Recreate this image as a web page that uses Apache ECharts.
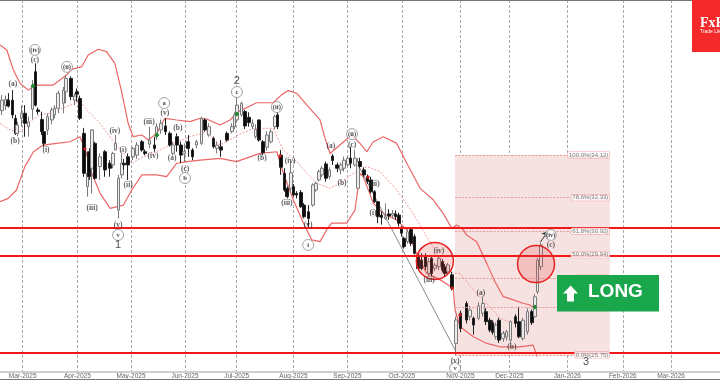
<!DOCTYPE html>
<html>
<head>
<meta charset="utf-8">
<style>
  html, body { margin: 0; padding: 0; background: #fff; }
  #chart { width: 720px; height: 380px; }
</style>
</head>
<body>
<div id="chart"></div>
<script src="https://cdn.jsdelivr.net/npm/echarts@6/dist/echarts.min.js"></script>
<script>
// where each bar sits on the x axis, the picture's bars are not evenly spaced
const candleBars = [
  0.5,1.6,2.3,3.5,4.3,4.8,6,6.9,7.9,9,9.9,10.6,11.6,12.2,13.2,14.4,15.1,16.2,17.6,18.3,19.7,20.8,21.3,22.2,
  23.4,24.3,24.8,25.5,26.4,27.8,29.2,30.6,31.3,32.1,32.9,33.8,34.4,35.6,37,38.1,39.4,40.3,41.5,42.9,43.5,44.7,
  46,47.2,48,49.1,50.3,51.2,52.3,53.5,54.6,56,56.9,58.1,59.3,60.2,61.4,63,64.4,65.1,65.9,
  67.1,68.1,69.2,70.1,71,71.9,73,74.1,75.2,76.4,77.1,78,79,79.8,80.8,81.5,82.4,83.6,84.4,85.7,86.9,87.8,88.6,
  89.5,90.6,91.5,92.4,93.7,94.7,95.6,96.6,97.4,98.6,99.4,100,101.1,102.1,103.1,104,105,106,107.1,108,109.1,
  109.9,110.8,111.5,112.2,113.2,114.2,115.1,116.2,117.1,118.2,119.2,119.9,120.8,121.9,122.9,123.6,124.5,125.6,
  126.6,127.9,129.6,130.5,131.5,132.9,134.1,135,136.1,136.8,137.7,138.6,139.8,140.7,141.8,143.2,144.1,145.2,
  146.5,147.7,148.6,149.3,150.2
];
// open, close, low, high per bar
const candles = [
  [35.97,36.41,35.79,36.62],[36.20,36.44,36.00,36.60],[36.41,36.16,36.10,36.70],[36.41,35.79,35.65,36.83],
  [35.65,35.02,34.95,35.80],[35.02,35.37,34.90,35.50],[35.65,35.86,35.30,36.20],[35.86,35.44,34.88,36.20],
  [35.30,35.50,34.88,35.72],[36.03,37.04,35.60,37.25],[37.60,36.20,36.14,37.95],[36.00,35.93,35.80,36.10],
  [35.60,35.09,34.95,35.93],[35.09,34.60,34.46,35.23],[35.16,35.72,34.95,35.86],[35.58,36.00,35.40,36.10],
  [35.79,36.07,35.65,36.20],[36.07,36.70,35.86,36.80],[36.28,36.83,35.86,36.97],[36.76,37.32,36.28,37.46],
  [37.32,36.56,36.41,37.40],[36.41,36.58,36.20,36.70],[36.76,36.66,36.35,36.90],[36.48,35.65,35.58,36.60],
  [35.02,33.35,33.20,35.25],[32.79,33.35,32.37,33.90],[34.25,33.21,33.07,34.40],[33.56,35.16,32.51,35.20],
  [34.60,33.14,33.07,34.67],[33.63,34.04,33.07,34.18],[34.25,33.49,33.20,34.32],[33.77,33.56,33.21,33.90],
  [33.70,34.18,33.56,34.25],[34.32,34.60,34.32,34.95],[31.81,33.14,31.46,33.28],[33.28,33.77,33.14,34.18],
  [33.77,33.70,33.50,33.95],[34.04,33.70,33.07,34.18],[34.04,34.39,33.90,34.46],[34.11,34.53,33.95,34.65],
  [34.67,34.32,34.25,34.74],[34.25,34.18,34.10,34.35],[34.57,34.74,34.40,35.30],[34.53,34.39,34.25,34.88],
  [34.88,35.30,34.74,35.44],[35.16,35.44,35.00,35.60],[35.33,35.09,34.95,35.65],[35.02,34.53,34.46,35.10],
  [34.18,34.53,34.10,34.67],[34.88,34.53,34.25,35.02],[34.53,34.11,33.77,34.67],[34.16,34.25,33.83,34.60],
  [34.67,34.39,34.04,34.95],[34.32,34.04,33.90,34.40],[34.53,34.67,34.40,34.75],[34.60,35.65,34.53,35.72],
  [35.58,35.16,35.09,35.65],[34.95,35.30,34.88,35.44],[34.81,34.46,34.39,34.88],[34.39,34.53,34.18,34.67],
  [34.46,34.32,34.04,34.74],[35.02,34.74,34.67,35.10],[35.09,35.30,35.02,35.44],[35.30,35.79,35.20,35.90],
  [35.58,36.20,35.50,36.62],[35.79,36.28,35.72,36.35],[35.93,35.33,35.20,36.00],[35.69,35.47,35.30,35.90],
  [35.30,35.44,35.20,35.60],[34.88,35.19,34.80,35.40],[35.58,34.74,34.67,35.60],[34.67,34.21,34.11,34.74],
  [34.44,34.95,34.30,35.10],[34.67,35.09,34.60,35.20],[35.30,35.72,35.20,35.80],[35.79,35.30,35.20,35.90],
  [34.11,33.60,33.28,34.32],[33.35,32.65,32.58,33.56],[32.72,32.37,32.30,32.80],[32.72,33.37,32.51,33.84],
  [32.79,32.44,32.37,32.90],[32.51,32.44,32.30,32.60],[32.55,31.95,31.90,32.65],[32.02,31.53,31.46,32.10],
  [31.74,31.46,31.05,32.02],[32.02,32.86,31.95,32.93],[32.65,32.93,32.58,33.00],[33.07,33.42,33.00,33.50],
  [33.28,33.56,33.20,33.65],[33.74,33.14,33.00,33.84],[33.21,33.49,33.10,33.60],[34.07,33.88,33.70,34.15],
  [33.70,33.56,33.40,33.80],[33.49,33.70,33.30,33.80],[33.56,33.90,33.42,34.05],[33.70,33.98,33.63,34.10],
  [33.98,33.77,33.56,34.46],[33.70,33.98,33.63,34.32],[32.72,33.84,32.72,33.98],[33.84,33.63,33.56,34.00],
  [33.49,33.28,33.20,33.60],[33.21,33.00,32.90,33.30],[33.07,32.58,32.50,33.20],[32.58,32.16,32.10,32.65],
  [32.16,31.53,31.26,32.16],[31.60,31.50,31.20,31.75],[31.46,31.53,31.40,32.09],[31.65,31.56,31.40,31.85],
  [31.60,31.67,31.46,31.81],[31.65,31.53,31.40,31.80],[31.60,31.26,31.12,31.70],[31.05,30.84,30.70,31.15],
  [30.63,30.28,30.20,30.70],[30.49,30.90,30.40,31.00],[31.00,30.42,30.30,31.05],[30.70,30.00,29.95,30.80],
  [29.93,29.37,29.30,30.00],[29.72,29.37,29.30,30.00],[29.86,29.44,29.30,30.00],[29.16,29.65,29.05,29.80],
  [29.79,29.16,29.05,29.90],[29.37,29.51,29.25,29.60],[29.44,29.79,29.30,29.90],[29.65,29.30,29.20,29.75],
  [29.44,29.16,29.05,29.55],[29.23,29.51,29.10,29.60],[29.10,28.54,28.45,29.23],[26.23,27.21,25.75,27.35],
  [27.49,26.86,26.70,27.60],[27.90,27.21,27.07,28.00],[27.35,27.63,27.20,27.80],[27.28,27.00,26.60,27.35],
  [27.28,27.80,27.20,27.95],[27.49,27.90,27.35,28.20],[27.56,27.14,27.00,27.70],[27.20,26.79,26.70,27.30],
  [27.10,26.70,26.60,27.20],[26.51,27.00,26.40,27.10],[27.20,26.37,26.25,27.30],[26.44,26.65,26.30,26.75],
  [26.50,26.72,26.35,26.80],[26.37,27.14,26.23,27.20],[27.35,27.07,26.90,27.45],[27.14,26.51,26.45,27.77],
  [26.44,27.20,26.35,27.30],[26.72,27.56,26.60,27.70],[27.56,27.10,27.00,27.65],[27.35,28.18,27.30,28.30],
  [28.39,29.72,28.30,29.80],[29.44,30.35,29.30,30.45]
];

const upperBars = [0,1.9,3.7,5.6,7.9,9.7,12,14.8,18.5,19.9,22.7,24.5,27.3,29.6,31.9,33.8,35.6,37,39.4,41.2,43.5,45.8,49.1,52.8,55.6,57.4,61.1,63.9,66.2,71.3,75.9,78.2,80.1,82.4,85.2,88.9,90.3,91.7,94.4,97.7,100,101.9,103.7,106.5,110.2,113,116.7,120.4,123.1,125.5,126.9,128.7,129.6,132.4,135.2,137.5,139.8,142.6,145.3,147.2,148.6];
const upperBand = [38.72,38.51,37.67,37.11,36.83,37.04,37.04,37.04,37.46,37.70,37.81,38.30,38.54,38.44,37.95,36.76,35.44,34.88,34.95,34.74,35.02,35.65,35.58,35.51,35.65,35.62,35.37,35.58,35.93,36.30,36.30,36.63,36.81,36.70,36.21,35.58,34.81,34.18,34.53,34.95,34.60,34.25,34.67,34.88,34.60,33.77,32.72,32.23,31.67,31.05,31.19,30.98,30.77,30.49,29.58,28.81,28.19,28.05,27.91,27.84,27.70];
const midBars = [0,2.8,5.6,8.3,11.1,13.9,18.5,22.2,25,27.8,31.9,36.6,39.8,43.5,48.1,52.8,57.4,61.1,66.2,70.4,75.9,78.7,82.4,85.2,88,91.7,94.4,98.2,101.9,105.6,110.2,114.8,118.5,122.2,125.9,127.8,131.5,135.2,138.9,142.6,146.3,148.6];
const midBand = [35.44,35.16,35.09,35.51,35.79,35.86,36.14,36.35,35.86,35.44,34.60,33.77,34.04,34.25,34.60,34.88,35.09,34.53,34.95,35.23,35.23,34.32,33.84,33.35,32.93,32.72,32.93,33.35,33.63,33.42,32.65,31.67,30.70,29.86,29.17,29.16,28.46,27.91,27.28,27.07,27.00,27.14];
const lowerBars = [0,2.3,4.6,6.9,9.3,12,15.7,19.4,22.2,23.6,25.5,27.8,30.6,34.3,36.6,39.4,43.5,46.3,49.1,51.9,55.6,61.1,65.7,72.2,76.9,78.7,81.5,84.3,86.6,88.9,90.7,92.1,96.3,98.6,100,100.9,103.7,106.5,110.2,113,115.7,118.5,122.2,125.9,126.4,127.8,131.5,135.2,138.9,144.4,148.1,149.2];
const lowerBand = [32.16,32.30,32.65,33.63,34.25,34.53,34.60,34.67,34.88,34.39,33.35,32.51,31.88,32.02,32.65,33.28,33.28,33.21,33.77,33.84,33.90,33.97,33.84,34.18,34.25,33.35,32.23,31.26,30.56,30.49,30.98,31.26,31.26,31.81,33.35,33.21,32.09,31.67,31.40,30.98,30.00,29.17,28.90,28.54,27.63,26.93,26.51,26.23,26.09,26.09,26.16,25.67];

const levels = [31.06, 29.89, 25.85];
const fibPrices = [34.12, 32.33, 30.92, 29.94, 28.95, 27.73, 25.75];
const fibTags = ["100.0%(34.12)", "78.6%(32.33)", "61.8%(30.92)", "50.0%(29.94)", "38.2%(28.95)", "23.6%(27.73)", "0.0%(25.75)"];
const fibStartBar = 126.4;
const fibEndBar = 169.4;

const trendFrom = [99.2, 33.78];
const trendTo = [126.4, 25.96];
const arrowFrom = [150.1, 30.47];
const arrowTo = [152.2, 30.93];

const circleSpots = [[120.8, 29.68], [148.9, 29.55]];
const redMarks = [[23.6, 34.37], [77.8, 34.07], [102.2, 33.19], [125.6, 28.55], [127.8, 27.42]];
const greenMarks = [[9.2, 37.0], [43.6, 34.95], [65.8, 35.83], [148.6, 27.75]];

// [bar, price, text]
const waveLabels = [
  [9.7,38.09,"(c)"],[3.6,37.09,"(a)"],[4.2,34.7,"(b)"],[12.8,34.32,"(i)"],[25.6,31.9,"(iii)"],
  [31.9,35.12,"(iv)"],[32.8,31.19,"(v)"],[34.2,34.32,"(i)"],[35.6,32.86,"(ii)"],[41.4,35.5,"(iii)"],
  [42.5,34.07,"(iv)"],[45.8,35.87,"(v)"],[47.8,33.99,"(a)"],[49.4,35.24,"(b)"],[51.4,33.53,"(c)"],
  [72.8,33.99,"(b)"],[80.6,33.86,"(iv)"],[79.7,32.11,"(iii)"],[85.6,31.19,"(v)"],[91.9,34.49,"(a)"],
  [95,32.94,"(b)"],[97.8,34.53,"(c)"],[104.2,32.9,"(ii)"],[103.6,31.69,"(i)"],[121.9,30.1,"(iv)"],
  [119.2,28.88,"(iii)"],[133.6,28.34,"(a)"],[142.2,26.08,"(b)"],[126.4,25.5,"(v)"],[153,30.35,"(c)"]
];
const ringLabels = [
  [9.7,38.51,"(iv)"],[18.6,37.8,"(ii)"],[32.8,30.77,"v"],[45.6,36.29,"a"],[51.4,33.15,"b"],
  [65.8,36.75,"c"],[76.9,36.12,"(ii)"],[85.6,30.35,"i"],[97.8,34.99,"(ii)"],[126.4,25.2,"v"],[153,30.77,"(iv)"]
];
const bigLabels = [[32.8,30.35,"1"],[65.8,37.21,"2"],[162.8,25.46,"3"]];

const monthTicks = [6.3, 21.5, 36.4, 51.4, 65.75, 81.5, 96.5, 111.6, 127.9, 141.5, 157.6, 173, 186.4];
const monthNames = ["Mar-2025","Apr-2025","May-2025","Jun-2025","Jul-2025","Aug-2025","Sep-2025","Oct-2025","Nov-2025","Dec-2025","Jan-2026","Feb-2026","Mar-2026"];

function zip(xs, ys) {
  return xs.map(function (x, i) { return [x, ys[i]]; });
}

function bandSeries(xs, ys, dashed) {
  return {
    type: "line",
    data: zip(xs, ys),
    showSymbol: false,
    silent: true,
    z: 3,
    lineStyle: {
      color: dashed ? "#f29a9a" : "#ec6666",
      width: dashed ? 1 : 1.2,
      type: dashed ? [2, 1.5] : "solid"
    }
  };
}

// symbol "none" would drop the label too, so keep an invisible dot
function textSeries(rows, fontSize, color, bold, family) {
  return {
    type: "scatter",
    data: rows,
    symbolSize: 1,
    itemStyle: { color: "transparent" },
    silent: true,
    z: 8,
    label: {
      show: true,
      position: "inside",
      formatter: function (p) { return p.data[2]; },
      fontFamily: family,
      fontSize: fontSize,
      fontWeight: bold ? "bold" : "normal",
      color: color
    }
  };
}

const serif = "'Liberation Serif', serif";

const option = {
  animation: false,
  backgroundColor: "#fff",
  grid: { left: 0, right: 0, top: 0, bottom: 8 },
  xAxis: {
    type: "value",
    min: 0,
    max: 200,
    axisLine: { show: true, lineStyle: { color: "#cfcfcf", width: 2 } },
    axisTick: { show: false, customValues: monthTicks },
    splitLine: { show: true, lineStyle: { color: "#a8a8a8", type: [3, 2], width: 1 } },
    axisLabel: {
      customValues: monthTicks,
      margin: 1,
      fontSize: 6.5,
      color: "#666",
      fontFamily: "'Liberation Sans', sans-serif",
      hideOverlap: false,
      formatter: function (v) {
        return monthNames[monthTicks.indexOf(v)] || "";
      }
    }
  },
  yAxis: {
    type: "value",
    min: 25.035,
    max: 40.6,
    show: false
  },
  series: [
    {
      // fib box and its levels, with the candles drawn above it
      type: "line",
      data: [],
      z: 1,
      silent: true,
      markArea: {
        silent: true,
        itemStyle: { color: "#f7e2e2", opacity: 1 },
        data: [[{ coord: [fibStartBar, fibPrices[0]] }, { coord: [fibEndBar, fibPrices[6]] }]]
      },
      markLine: {
        silent: true,
        symbol: "none",
        label: { show: false },
        lineStyle: { color: "#e89a9a", type: [2, 1.5], width: 1 },
        data: fibPrices.map(function (p) {
          return [{ coord: [fibStartBar, p] }, { coord: [fibEndBar, p] }];
        })
      }
    },
    {
      type: "candlestick",
      barWidth: 3.2,
      z: 4,
      silent: true,
      data: candles.map(function (c, i) {
        return [candleBars[i], c[0], c[1], c[2], c[3]];
      }),
      itemStyle: {
        color: "#ececec",
        color0: "#0c0c0c",
        borderColor: "#7a7a7a",
        borderColor0: "#222",
        borderWidth: 1
      }
    },
    bandSeries(upperBars, upperBand, false),
    bandSeries(midBars, midBand, true),
    bandSeries(lowerBars, lowerBand, false),
    {
      type: "line",
      data: [trendFrom, trendTo],
      showSymbol: false,
      silent: true,
      z: 3,
      lineStyle: { color: "#8a8a8a", width: 1 }
    },
    {
      type: "line",
      data: [],
      silent: true,
      z: 6,
      markLine: {
        silent: true,
        symbol: ["none", "arrow"],
        symbolSize: 6,
        label: { show: false },
        lineStyle: { color: "#333", type: "solid", width: 1 },
        data: [[{ coord: arrowFrom }, { coord: arrowTo }]]
      }
    },
    {
      type: "line",
      data: [],
      silent: true,
      z: 5,
      markLine: {
        silent: true,
        symbol: "none",
        label: { show: false },
        lineStyle: { color: "#f01818", type: "solid", width: 2 },
        data: levels.map(function (p) { return { yAxis: p }; })
      }
    },
    {
      type: "scatter",
      data: circleSpots,
      symbolSize: 37,
      silent: true,
      z: 6,
      itemStyle: { color: "rgba(228,60,60,0.2)", borderColor: "#e82020", borderWidth: 1.5, opacity: 1 }
    },
    {
      type: "scatter",
      data: redMarks,
      symbol: "diamond",
      symbolSize: 4,
      silent: true,
      z: 7,
      itemStyle: { color: "#c81e1e", opacity: 1 }
    },
    {
      type: "scatter",
      data: greenMarks,
      symbol: "diamond",
      symbolSize: 5,
      silent: true,
      z: 7,
      itemStyle: { color: "#1f8a2e", opacity: 1 }
    },
    {
      // rings with wave text inside
      type: "scatter",
      data: ringLabels,
      symbolSize: 11,
      silent: true,
      z: 8,
      itemStyle: { color: "rgba(255,255,255,0.8)", borderColor: "#8c8c8c", borderWidth: 0.8, opacity: 1 },
      label: {
        show: true,
        position: "inside",
        formatter: function (p) { return p.data[2]; },
        fontFamily: serif,
        fontSize: 6.5,
        fontWeight: "bold",
        color: "#444"
      }
    },
    textSeries(waveLabels, 7.5, "#333", true, serif),
    textSeries(bigLabels, 11, "#222", false, "'Liberation Sans', sans-serif"),
    {
      type: "scatter",
      data: fibPrices.map(function (p, i) { return [fibEndBar, p, fibTags[i]]; }),
      symbolSize: 1,
      itemStyle: { color: "transparent" },
      silent: true,
      z: 7,
      label: {
        show: true,
        position: "left",
        distance: 0,
        formatter: function (p) { return p.data[2]; },
        fontFamily: "'Liberation Sans', sans-serif",
        fontSize: 6,
        color: "#555",
        backgroundColor: "#fff",
        borderColor: "#eda0a0",
        borderWidth: 0.6,
        borderRadius: 1,
        padding: [0, 1]
      }
    }
  ],
  graphic: [
    { type: "rect", z: 20, shape: { x: 0, y: 0, width: 720, height: 1 }, style: { fill: "#777" } },
    { type: "rect", z: 20, shape: { x: 0, y: 379, width: 720, height: 1 }, style: { fill: "#777" } },
    { type: "rect", z: 20, shape: { x: 692, y: 0, width: 28, height: 52 }, style: { fill: "#f42a2a" } },
    { type: "text", z: 21, x: 700, y: 16, style: { text: "FxPro", fill: "#fff", font: "bold 14px 'Liberation Serif', serif" } },
    { type: "text", z: 21, x: 700, y: 29, style: { text: "Trade Like a Pro", fill: "#fff", font: "5px 'Liberation Sans', sans-serif" } },
    { type: "rect", z: 20, shape: { x: 557, y: 275, width: 102, height: 36.5 }, style: { fill: "#1aa64b" } },
    {
      type: "polygon",
      z: 21,
      shape: { points: [[570.7, 285.5], [578, 293.5], [574, 293.5], [574, 301.5], [567, 301.5], [567, 293.5], [563, 293.5]] },
      style: { fill: "#fff" }
    },
    { type: "text", z: 21, x: 588, y: 282, style: { text: "LONG", fill: "#fff", font: "bold 19px 'Liberation Sans', sans-serif" } }
  ]
};

const chart = echarts.init(document.getElementById("chart"), null, { renderer: "canvas" });
chart.setOption(option);
</script>
</body>
</html>
